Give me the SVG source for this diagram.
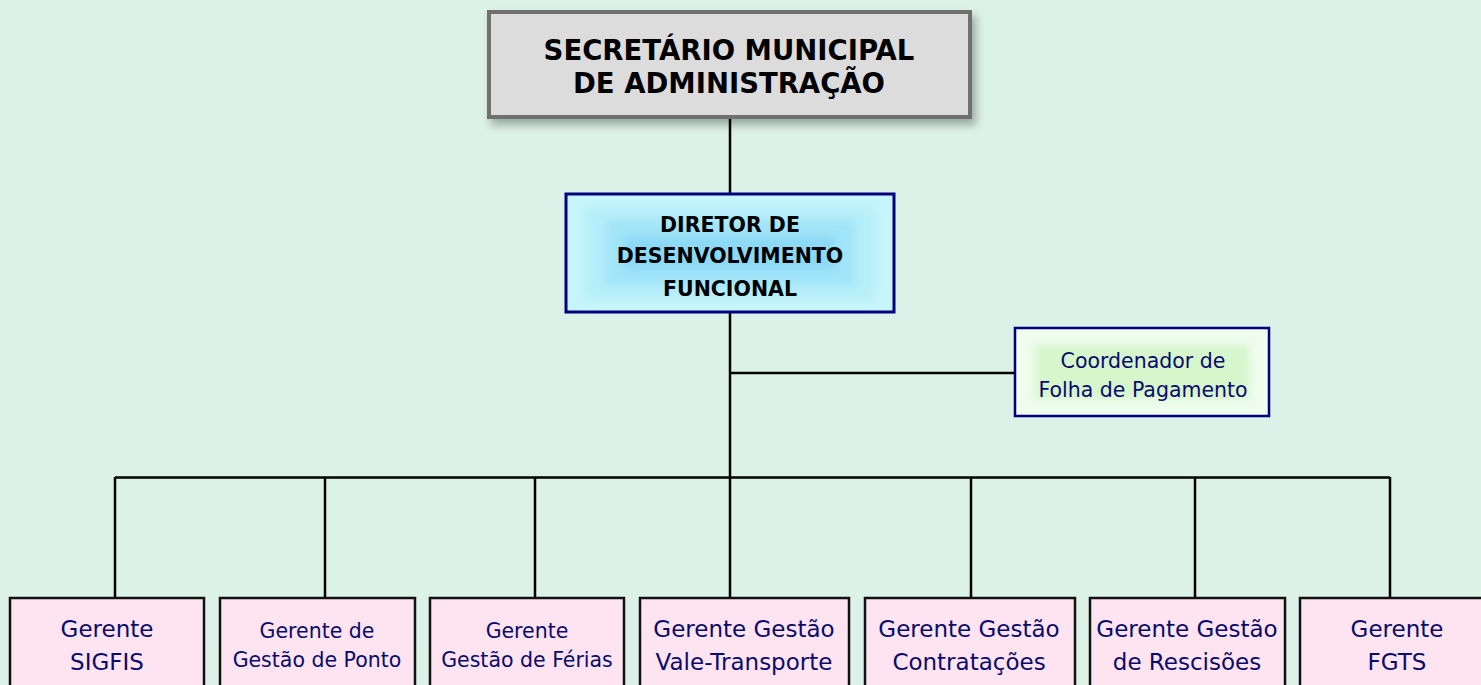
<svg xmlns="http://www.w3.org/2000/svg" width="1481" height="685" viewBox="0 0 1481 685">
  <style>
    .conn { stroke: #000; stroke-width: 2.5; fill: none; }
    .gerente { fill: #fde4f0; stroke: #111; stroke-width: 2.5; }
    .lbl { font-family: "DejaVu Sans", Verdana, sans-serif; fill: #0a0a6e; text-anchor: middle; }
    .big { font-size: 23px; }
    .small { font-size: 20.5px; }
    .bold { font-family: "DejaVu Sans", Verdana, sans-serif; font-weight: bold; fill: #000; text-anchor: middle; }
  </style>
  <defs>
    <filter id="shadow" x="-10%" y="-10%" width="125%" height="140%">
      <feDropShadow dx="4" dy="6" stdDeviation="4" flood-color="#000" flood-opacity="0.3"/>
    </filter>
    <filter id="soft" x="-10%" y="-20%" width="120%" height="140%">
      <feGaussianBlur stdDeviation="5"/>
    </filter>
  </defs>
  <rect x="0" y="0" width="1481" height="685" fill="#dcf1e7"/>

  <g id="connectors">
    <line class="conn" x1="730" y1="119" x2="730" y2="193"/>
    <line class="conn" x1="730" y1="313" x2="730" y2="597"/>
    <line class="conn" x1="730" y1="373" x2="1015" y2="373"/>
    <line class="conn" x1="115" y1="477.5" x2="1390" y2="477.5"/>
    <line class="conn" x1="115" y1="477" x2="115" y2="597"/>
    <line class="conn" x1="325" y1="477" x2="325" y2="597"/>
    <line class="conn" x1="535" y1="477" x2="535" y2="597"/>
    <line class="conn" x1="971" y1="477" x2="971" y2="597"/>
    <line class="conn" x1="1195" y1="477" x2="1195" y2="597"/>
    <line class="conn" x1="1390" y1="477" x2="1390" y2="597"/>
  </g>

  <g id="secretario">
    <rect x="489" y="12" width="481" height="105" fill="#dcdcdc" stroke="#707070" stroke-width="4" filter="url(#shadow)"/>
    <text class="bold" font-size="27.5" x="729" y="60">SECRETÁRIO MUNICIPAL</text>
    <text class="bold" font-size="27.5" x="729" y="93">DE ADMINISTRAÇÃO</text>
  </g>

  <g id="diretor">
    <rect x="566" y="194" width="328" height="118" fill="#c6f5fb"/>
    <g filter="url(#soft)">
      <rect x="585" y="207" width="290" height="92" fill="#b6eef9"/>
      <rect x="605" y="220" width="250" height="66" fill="#a2e4f8"/>
      <rect x="625" y="236" width="210" height="34" fill="#8cd9f6"/>
    </g>
    <rect x="566" y="194" width="328" height="118" fill="none" stroke="#000080" stroke-width="3"/>
    <text class="bold" font-size="20.5" x="730" y="232">DIRETOR DE</text>
    <text class="bold" font-size="20.5" x="730" y="263">DESENVOLVIMENTO</text>
    <text class="bold" font-size="20.5" x="730" y="296">FUNCIONAL</text>
  </g>

  <g id="coordenador">
    <rect x="1015" y="328" width="254" height="88" fill="#effcee"/>
    <rect x="1035" y="345" width="214" height="54" fill="#d6f6cc" filter="url(#soft)"/>
    <rect x="1015" y="328" width="254" height="88" fill="none" stroke="#000080" stroke-width="2.5"/>
    <text class="lbl" font-size="20.5" x="1143" y="368">Coordenador de</text>
    <text class="lbl" font-size="20.5" x="1143" y="397">Folha de Pagamento</text>
  </g>

  <g id="gerente-sigfis">
    <rect class="gerente" x="10" y="598" width="194" height="100"/>
    <text class="lbl big" x="107" y="637">Gerente</text>
    <text class="lbl big" x="107" y="670">SIGFIS</text>
  </g>

  <g id="gerente-ponto">
    <rect class="gerente" x="220" y="598" width="195" height="100"/>
    <text class="lbl small" x="317" y="638">Gerente de</text>
    <text class="lbl small" x="317" y="667">Gestão de Ponto</text>
  </g>

  <g id="gerente-ferias">
    <rect class="gerente" x="430" y="598" width="194" height="100"/>
    <text class="lbl small" x="527" y="638">Gerente</text>
    <text class="lbl small" x="527" y="667">Gestão de Férias</text>
  </g>

  <g id="gerente-vale">
    <rect class="gerente" x="640" y="598" width="209" height="100"/>
    <text class="lbl big" x="744" y="637">Gerente Gestão</text>
    <text class="lbl big" x="744" y="670">Vale-Transporte</text>
  </g>

  <g id="gerente-contratacoes">
    <rect class="gerente" x="865" y="598" width="210" height="100"/>
    <text class="lbl big" x="969" y="637">Gerente Gestão</text>
    <text class="lbl big" x="969" y="670">Contratações</text>
  </g>

  <g id="gerente-rescisoes">
    <rect class="gerente" x="1090" y="598" width="195" height="100"/>
    <text class="lbl big" x="1187" y="637">Gerente Gestão</text>
    <text class="lbl big" x="1187" y="670">de Rescisões</text>
  </g>

  <g id="gerente-fgts">
    <rect class="gerente" x="1300" y="598" width="200" height="100"/>
    <text class="lbl big" x="1397" y="637">Gerente</text>
    <text class="lbl big" x="1397" y="670">FGTS</text>
  </g>
</svg>
